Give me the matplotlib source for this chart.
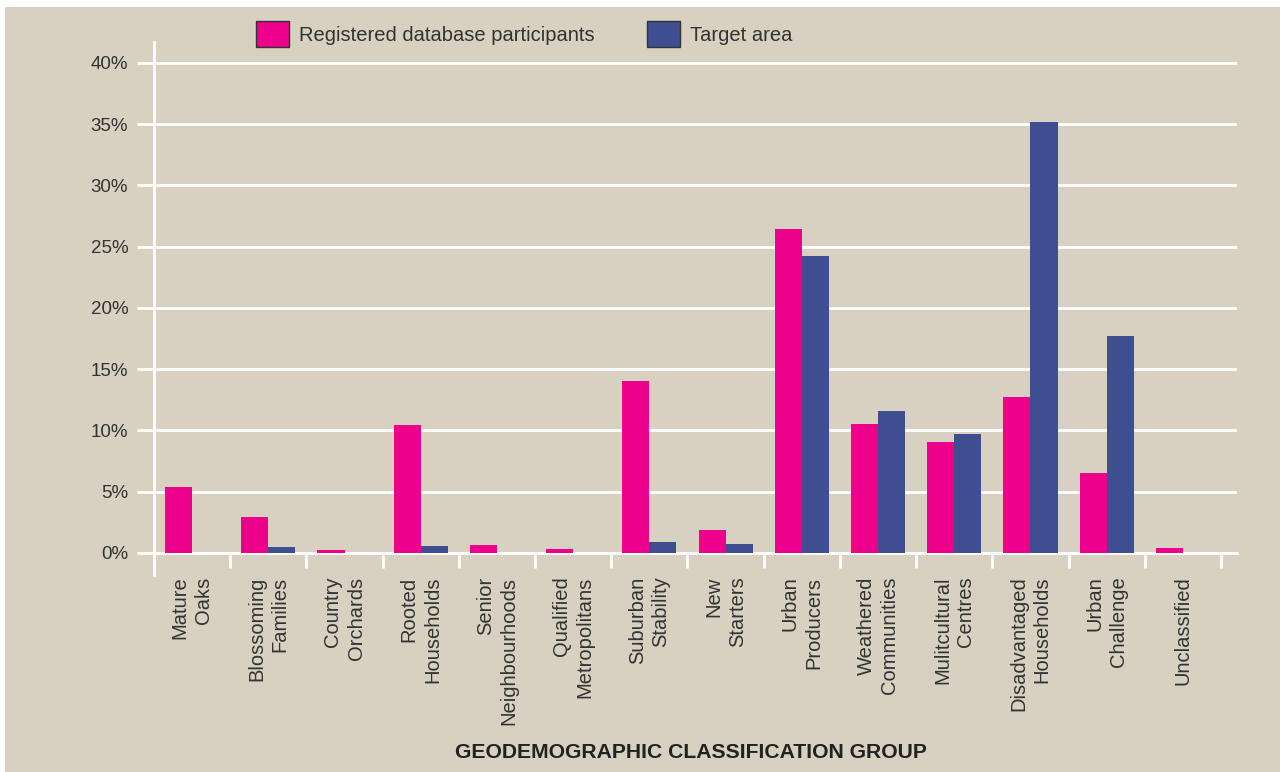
import numpy as np
import matplotlib
matplotlib.use('Agg')
from matplotlib import pyplot as plt
from matplotlib.patches import Patch, Rectangle

# values (% of each group)
groups = ['Mature\nOaks', 'Blossoming\nFamilies', 'Country\nOrchards', 'Rooted\nHouseholds',
          'Senior\nNeighbourhoods', 'Qualified\nMetropolitans', 'Suburban\nStability',
          'New\nStarters', 'Urban\nProducers', 'Weathered\nCommunities', 'Mulitcultural\nCentres',
          'Disadvantaged\nHouseholds', 'Urban\nChallenge', 'Unclassified']
registered = [5.4, 2.9, 0.25, 10.45, 0.65, 0.3, 14.0, 1.9, 26.45, 10.55, 9.05, 12.75, 6.55, 0.4]
target = [0.0, 0.5, 0.0, 0.55, 0.0, 0.0, 0.9, 0.75, 24.25, 11.6, 9.7, 35.15, 17.7, 0.0]
yticks = [0, 5, 10, 15, 20, 25, 30, 35, 40]

bg = '#d8d0c1'
pink = '#ec008c'
blue = '#3f4d91'
txt = '#333333'

plt.rcParams['font.family'] = ['Liberation Sans', 'DejaVu Sans']

fig = plt.figure(figsize=(12.8, 7.72), dpi=100, facecolor='white')
fig.patches.append(Rectangle((5 / 1280, 0), 1, 1 - 7 / 772, transform=fig.transFigure,
                             facecolor=bg, edgecolor='none', zorder=-10))

ax = fig.add_axes([154 / 1280, 1 - 575 / 772, (1237 - 154) / 1280, (575 - 42) / 772])
ax.set_facecolor('none')

x = np.arange(len(groups)) + 0.5
w = 0.355
ax.bar(x - w / 2, registered, w, color=pink, zorder=3)
ax.bar(x + w / 2, target, w, color=blue, zorder=3)

ax.set_xlim(0, 14.21)
ax.set_ylim(-1.8, 41.7)

# y axis
ax.set_yticks(yticks)
ax.set_yticklabels([f'{v}%' for v in yticks])
ax.tick_params(axis='y', length=12.5, width=2, color='white', pad=6,
               labelsize=13.5, labelcolor=txt)
ax.yaxis.grid(True, color='white', linewidth=2, zorder=1)

# x axis: boundary ticks hanging from the 0% line
ax.spines['bottom'].set_position(('data', 0))
ax.spines['bottom'].set_color('white')
ax.spines['bottom'].set_linewidth(2)
ax.spines['left'].set_color('white')
ax.spines['left'].set_linewidth(2)
ax.spines['right'].set_visible(False)
ax.spines['top'].set_visible(False)
ax.set_xticks(np.arange(0, 15))
ax.set_xticklabels([])
ax.tick_params(axis='x', which='major', length=10.5, width=2, color='white')
ax.set_xticks(x, minor=True)
ax.set_xticklabels(groups, minor=True, rotation=90, rotation_mode='anchor',
                   ha='right', va='center', multialignment='right',
                   fontsize=14.5, color=txt, linespacing=1.3)
ax.tick_params(axis='x', which='minor', length=0, pad=17)

fig.text(691 / 1280, 1 - 752 / 772, 'GEODEMOGRAPHIC CLASSIFICATION GROUP',
         ha='center', va='center', fontsize=15.2, fontweight='bold', color='#222222')

handles = [Patch(facecolor=pink, edgecolor='#333333', linewidth=1),
           Patch(facecolor=blue, edgecolor='#333333', linewidth=1)]
fig.legend(handles, ['Registered database participants', 'Target area'],
           loc='center', bbox_to_anchor=(524 / 1280, 1 - 34 / 772), ncol=2,
           frameon=False, fontsize=14.5, labelcolor=txt,
           handlelength=1.65, handleheight=1.65, handletextpad=0.5, columnspacing=2.6)

fig.savefig('out.png', dpi=100, facecolor=fig.get_facecolor())
